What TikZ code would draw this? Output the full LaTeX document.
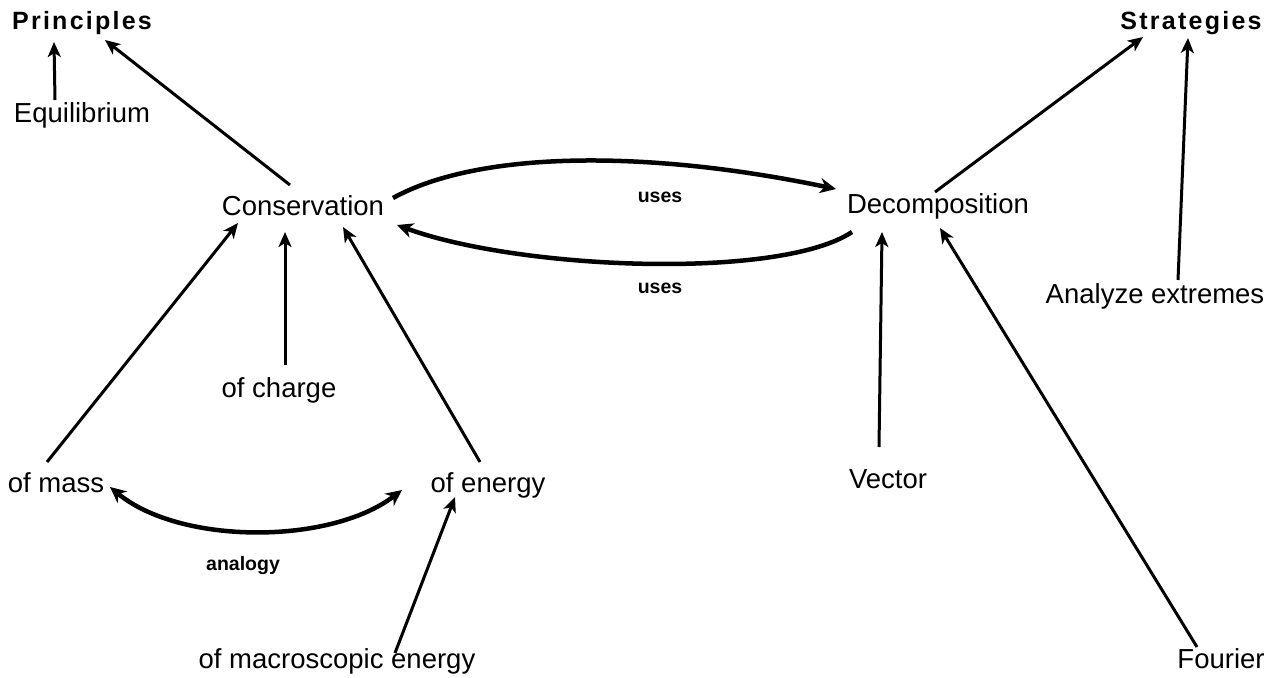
\documentclass[tikz,border=0pt]{standalone}
\usepackage{fontspec}
\setmainfont{Liberation Sans}
\usetikzlibrary{arrows.meta}
\newcommand{\spaced}[1]{\addfontfeature{LetterSpace=9}#1}
\begin{document}
\begin{tikzpicture}[x=1pt,y=-1pt,
  lbl/.style={anchor=base,inner sep=0pt,font=\fontsize{27.5}{30}\selectfont},
  head/.style={anchor=base,inner sep=0pt,font=\fontsize{25}{28}\selectfont\bfseries},
  edgelbl/.style={anchor=base,inner sep=0pt,font=\fontsize{19.5}{22}\selectfont\bfseries},
  conn/.style={line width=3pt,-{Stealth[length=15pt,width=13pt,inset=4pt]}},
  thick conn/.style={line width=4.5pt,-{Stealth[length=16pt,width=15pt,inset=5pt]}},
  both conn/.style={line width=4.5pt,{Stealth[length=16pt,width=15pt,inset=5pt]}-{Stealth[length=16pt,width=15pt,inset=5pt]}}]
\useasboundingbox (0,0) rectangle (1279,677);
% nodes
\node[head] (prin) at (82,30) {\spaced{Principles}};
\node[head] (strat) at (1191,30) {\spaced{Strategies}};
\node[lbl] (eq) at (82,122) {Equilibrium};
\node[lbl] (cons) at (303,215) {Conservation};
\node[lbl] (dec) at (938,213) {Decomposition};
\node[lbl] (ext) at (1155,303) {Analyze extremes};
\node[lbl] (charge) at (279,397) {of charge};
\node[lbl] (mass) at (56,492) {of mass};
\node[lbl] (energy) at (488,492) {of energy};
\node[lbl] (vec) at (888,488) {Vector};
\node[lbl] (four) at (1221,668) {Fourier};
\node[lbl] (macro) at (337,668) {of macroscopic energy};
\node[edgelbl] (analogy) at (243,570) {analogy};
\node[edgelbl] (usesA) at (660,202) {uses};
\node[edgelbl] (usesB) at (660,293) {uses};
% connectors
\draw[conn] ([shift={(-27,-22)}]eq.base) -- ([shift={(-28,12)}]prin.base);
\draw[conn] ([shift={(-13,-30)}]cons.base) -- ([shift={(23,10)}]prin.base);
\draw[thick conn] ([shift={(90,-17)}]cons.base) .. controls (480,150) and (650,150) .. ([shift={(-102,-24)}]dec.base);
\draw[thick conn] ([shift={(-86,19)}]dec.base) .. controls (780,280) and (520,270) .. ([shift={(94,10)}]cons.base);
\draw[conn] ([shift={(6,-32)}]charge.base) -- ([shift={(-18,17)}]cons.base);
\draw[conn] ([shift={(-9,-30)}]mass.base) -- ([shift={(-65,8)}]cons.base);
\draw[conn] ([shift={(-8,-30)}]energy.base) -- ([shift={(40,12)}]cons.base);
\draw[both conn] ([shift={(54,-5)}]mass.base) .. controls (180,545) and (330,545) .. ([shift={(-86,-2)}]energy.base);
\draw[conn] ([shift={(58,-15)}]macro.base) -- ([shift={(-33,5)}]energy.base);
\draw[conn] ([shift={(-3,-21)}]dec.base) -- ([shift={(-48,7)}]strat.base);
\draw[conn] ([shift={(23,-23)}]ext.base) -- ([shift={(-3,8)}]strat.base);
\draw[conn] ([shift={(-9,-41)}]vec.base) -- ([shift={(-56,19)}]dec.base);
\draw[conn] ([shift={(-24,-21)}]four.base) -- ([shift={(2,15)}]dec.base);
\end{tikzpicture}
\end{document}
